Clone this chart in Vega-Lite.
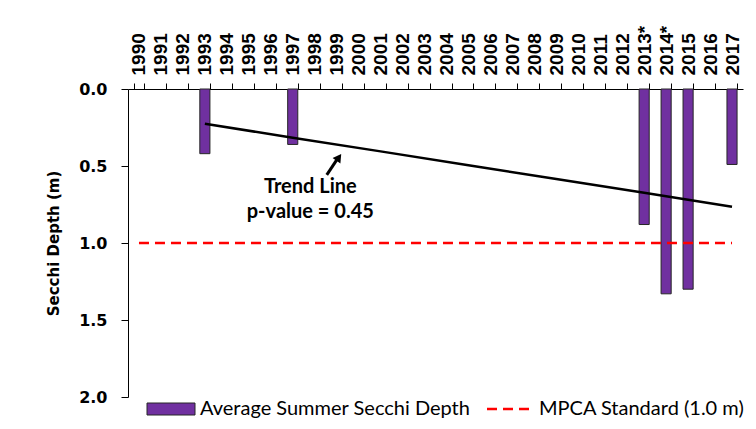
{
  "$schema": "https://vega.github.io/schema/vega-lite/v6.json",
  "width": 615,
  "height": 308,
  "autosize": {"type": "none"},
  "padding": {"left": 128, "top": 89, "right": 13, "bottom": 32},
  "background": "white",
  "config": {
    "view": {"stroke": null},
    "axis": {"grid": false, "domainColor": "#000000", "tickColor": "#000000", "labelColor": "#000000", "titleColor": "#000000", "domainWidth": 1, "tickWidth": 1},
    "legend": {"orient": "none", "padding": 0, "labelFont": "Lato", "labelFontSize": 20, "labelColor": "#000000", "labelLimit": 0, "title": null}
  },
  "datasets": {
    "bars": [
      {"year": "1993", "depth": 0.42, "series": "Average Summer Secchi Depth"},
      {"year": "1997", "depth": 0.36, "series": "Average Summer Secchi Depth"},
      {"year": "2013", "depth": 0.88, "series": "Average Summer Secchi Depth"},
      {"year": "2014", "depth": 1.33, "series": "Average Summer Secchi Depth"},
      {"year": "2015", "depth": 1.30, "series": "Average Summer Secchi Depth"},
      {"year": "2017", "depth": 0.49, "series": "Average Summer Secchi Depth"}
    ],
    "trend": [
      {"year": "1993", "depth": 0.226},
      {"year": "1997", "depth": 0.316},
      {"year": "2001", "depth": 0.405},
      {"year": "2005", "depth": 0.495},
      {"year": "2009", "depth": 0.585},
      {"year": "2013", "depth": 0.674},
      {"year": "2017", "depth": 0.765}
    ],
    "standard": [
      {"year": "1990", "depth": 1.0, "series": "MPCA Standard (1.0 m)"},
      {"year": "2017", "depth": 1.0, "series": "MPCA Standard (1.0 m)"}
    ],
    "arrow": [
      {"ax": 1998.55, "ay": 0.558},
      {"ax": 1999.05, "ay": 0.45}
    ],
    "arrowhead": [
      {"ax": 1999.1, "ay": 0.444}
    ],
    "notes": [
      {"nx": 1997.8, "ny": 0.636, "label": "Trend Line"},
      {"nx": 1997.8, "ny": 0.799, "label": "p-value = 0.45"}
    ]
  },
  "resolve": {"scale": {"x": "independent"}},
  "layer": [
    {
      "layer": [
        {
          "data": {"name": "bars"},
          "mark": {"type": "bar", "stroke": "#262626", "strokeWidth": 1},
          "encoding": {
            "x": {
              "field": "year", "type": "ordinal",
              "scale": {"type": "band", "domain": ["1990","1991","1992","1993","1994","1995","1996","1997","1998","1999","2000","2001","2002","2003","2004","2005","2006","2007","2008","2009","2010","2011","2012","2013","2014","2015","2016","2017"], "paddingInner": 0.54, "paddingOuter": 0.27},
              "axis": {
                "orient": "top", "title": null, "labelAngle": -90, "labelFont": "Liberation Sans", "labelFontWeight": "bold", "labelFontSize": 19,
                "tickBand": "extent", "tickSize": 6, "labelPadding": 8,
                "labelExpr": "datum.value == '2013' || datum.value == '2014' ? datum.value + '*' : datum.value"
              }
            },
            "y": {
              "field": "depth", "type": "quantitative",
              "scale": {"domain": [0, 2], "reverse": true, "nice": false},
              "axis": {"values": [0, 0.5, 1, 1.5, 2], "format": ".1f", "title": "Secchi Depth (m)", "titleFont": "DejaVu Sans", "titleFontWeight": "bold", "titleFontSize": 15, "titlePadding": 17,
                "labelFont": "DejaVu Sans", "labelFontWeight": "bold", "labelFontSize": 16, "tickSize": 7, "labelPadding": 14}
            },
            "fill": {
              "field": "series", "type": "nominal",
              "scale": {"range": ["#7030A0"]},
              "legend": {"legendX": 15, "legendY": 310, "symbolType": "M-1,-1L7,-1L7,1L-1,1Z", "symbolSize": 144, "symbolStrokeColor": "#262626", "symbolStrokeWidth": 1, "symbolOpacity": 1, "labelOffset": 37}
            }
          }
        },
        {
          "data": {"name": "trend"},
          "mark": {"type": "line", "color": "#000000", "strokeWidth": 2.5},
          "encoding": {
            "x": {"field": "year", "type": "ordinal"},
            "y": {"field": "depth", "type": "quantitative"}
          }
        },
        {
          "data": {"name": "standard"},
          "mark": {"type": "line", "stroke": "#FF0000", "strokeWidth": 2.5},
          "encoding": {
            "x": {"field": "year", "type": "ordinal"},
            "y": {"field": "depth", "type": "quantitative"},
            "strokeDash": {
              "field": "series", "type": "nominal",
              "scale": {"range": [[10, 6]]},
              "legend": {"legendX": 355, "legendY": 310, "symbolType": "M-1,0L7,0", "symbolSize": 144, "symbolFillColor": "transparent", "symbolStrokeColor": "#FF0000", "symbolStrokeWidth": 2.5, "symbolDash": [10, 7], "labelOffset": 36}
            }
          }
        }
      ]
    },
    {
      "layer": [
        {
          "data": {"name": "arrow"},
          "mark": {"type": "line", "color": "#000000", "strokeWidth": 3},
          "encoding": {
            "x": {"field": "ax", "type": "quantitative", "scale": {"domain": [1989.5, 2017.5], "nice": false, "zero": false}, "axis": null},
            "y": {"field": "ay", "type": "quantitative"}
          }
        },
        {
          "data": {"name": "arrowhead"},
          "mark": {"type": "point", "shape": "triangle-up", "angle": 35, "filled": true, "color": "#000000", "opacity": 1, "size": 90},
          "encoding": {
            "x": {"field": "ax", "type": "quantitative", "scale": {"domain": [1989.5, 2017.5], "nice": false, "zero": false}, "axis": null},
            "y": {"field": "ay", "type": "quantitative"}
          }
        },
        {
          "data": {"name": "notes"},
          "mark": {"type": "text", "font": "Lato", "fontWeight": "bold", "fontSize": 20, "color": "#000000", "align": "center", "baseline": "middle"},
          "encoding": {
            "x": {"field": "nx", "type": "quantitative", "scale": {"domain": [1989.5, 2017.5], "nice": false, "zero": false}, "axis": null},
            "y": {"field": "ny", "type": "quantitative"},
            "text": {"field": "label"}
          }
        }
      ]
    }
  ]
}
